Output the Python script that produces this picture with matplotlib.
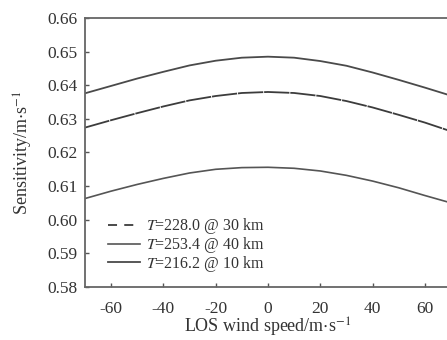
import numpy as np
import matplotlib
matplotlib.use('Agg')
import matplotlib.pyplot as plt

plt.rcParams['font.family'] = ['Liberation Serif', 'DejaVu Serif']
plt.rcParams['mathtext.fontset'] = 'stix'
plt.rcParams['axes.unicode_minus'] = False

# LOS wind speed (m/s) and sensitivity for three atmospheric temperatures
wind = [-70, -60, -50, -40, -30, -20, -10, 0, 10, 20, 30, 40, 50, 60, 70]
sens_228 = [0.6274, 0.6296, 0.6317, 0.6337, 0.6355, 0.6368, 0.6377, 0.6380,
            0.6377, 0.6368, 0.6353, 0.6334, 0.6312, 0.6289, 0.6263]
sens_253 = [0.6063, 0.6085, 0.6105, 0.6123, 0.6139, 0.6150, 0.6155, 0.6156,
            0.6153, 0.6145, 0.6132, 0.6115, 0.6095, 0.6072, 0.6050]
sens_216 = [0.6376, 0.6398, 0.6420, 0.6440, 0.6459, 0.6473, 0.6482, 0.6485,
            0.6482, 0.6472, 0.6458, 0.6438, 0.6416, 0.6393, 0.6369]

labels = [r'$T$=228.0 @ 30 km', r'$T$=253.4 @ 40 km', r'$T$=216.2 @ 10 km']
xticks = [-60, -40, -20, 0, 20, 40, 60]
yticks = [0.58, 0.59, 0.60, 0.61, 0.62, 0.63, 0.64, 0.65, 0.66]

fig = plt.figure(figsize=(4.47, 3.40), dpi=100)
ax = fig.add_axes([0.190, 0.156, 0.819, 0.791])

xs = np.array(wind)
ax.plot(xs, sens_228, color='#3c3c3c', lw=1.3, dashes=(14, 0.5), label=labels[0])
ax.plot(xs, sens_253, color='#555555', lw=1.2, label=labels[1])
ax.plot(xs, sens_216, color='#4a4a4a', lw=1.3, label=labels[2])

ax.set_xlim(-70, 70)
ax.set_ylim(0.58, 0.66)
ax.set_xticks(xticks)
ax.set_yticks(yticks)
ax.set_yticklabels(['%.2f' % v for v in yticks])
ax.tick_params(direction='in', length=3, width=1, colors='#555555',
               labelcolor='#333333', labelsize=12.5)
ax.tick_params(axis='y', pad=5)
ax.tick_params(axis='x', pad=10)
for s in ax.spines.values():
    s.set_color('#666666')
    s.set_linewidth(1.3)

ax.set_xlabel(r'LOS wind speed/m$\cdot$s$^{-1}$', fontsize=13, color='#333333',
              labelpad=-1)
ax.set_ylabel(r'Sensitivity/m$\cdot$s$^{-1}$', fontsize=13, color='#333333',
              labelpad=9)

leg = ax.legend(loc='lower left', bbox_to_anchor=(0.045, 0.025), frameon=False,
                fontsize=11.5, handlelength=2.0, handletextpad=0.4,
                labelspacing=-0.08, borderaxespad=0.0)
leg.get_lines()[0].set_dashes([5, 4])
for t in leg.get_texts():
    t.set_color('#333333')

fig.savefig('out.png', dpi=100)
